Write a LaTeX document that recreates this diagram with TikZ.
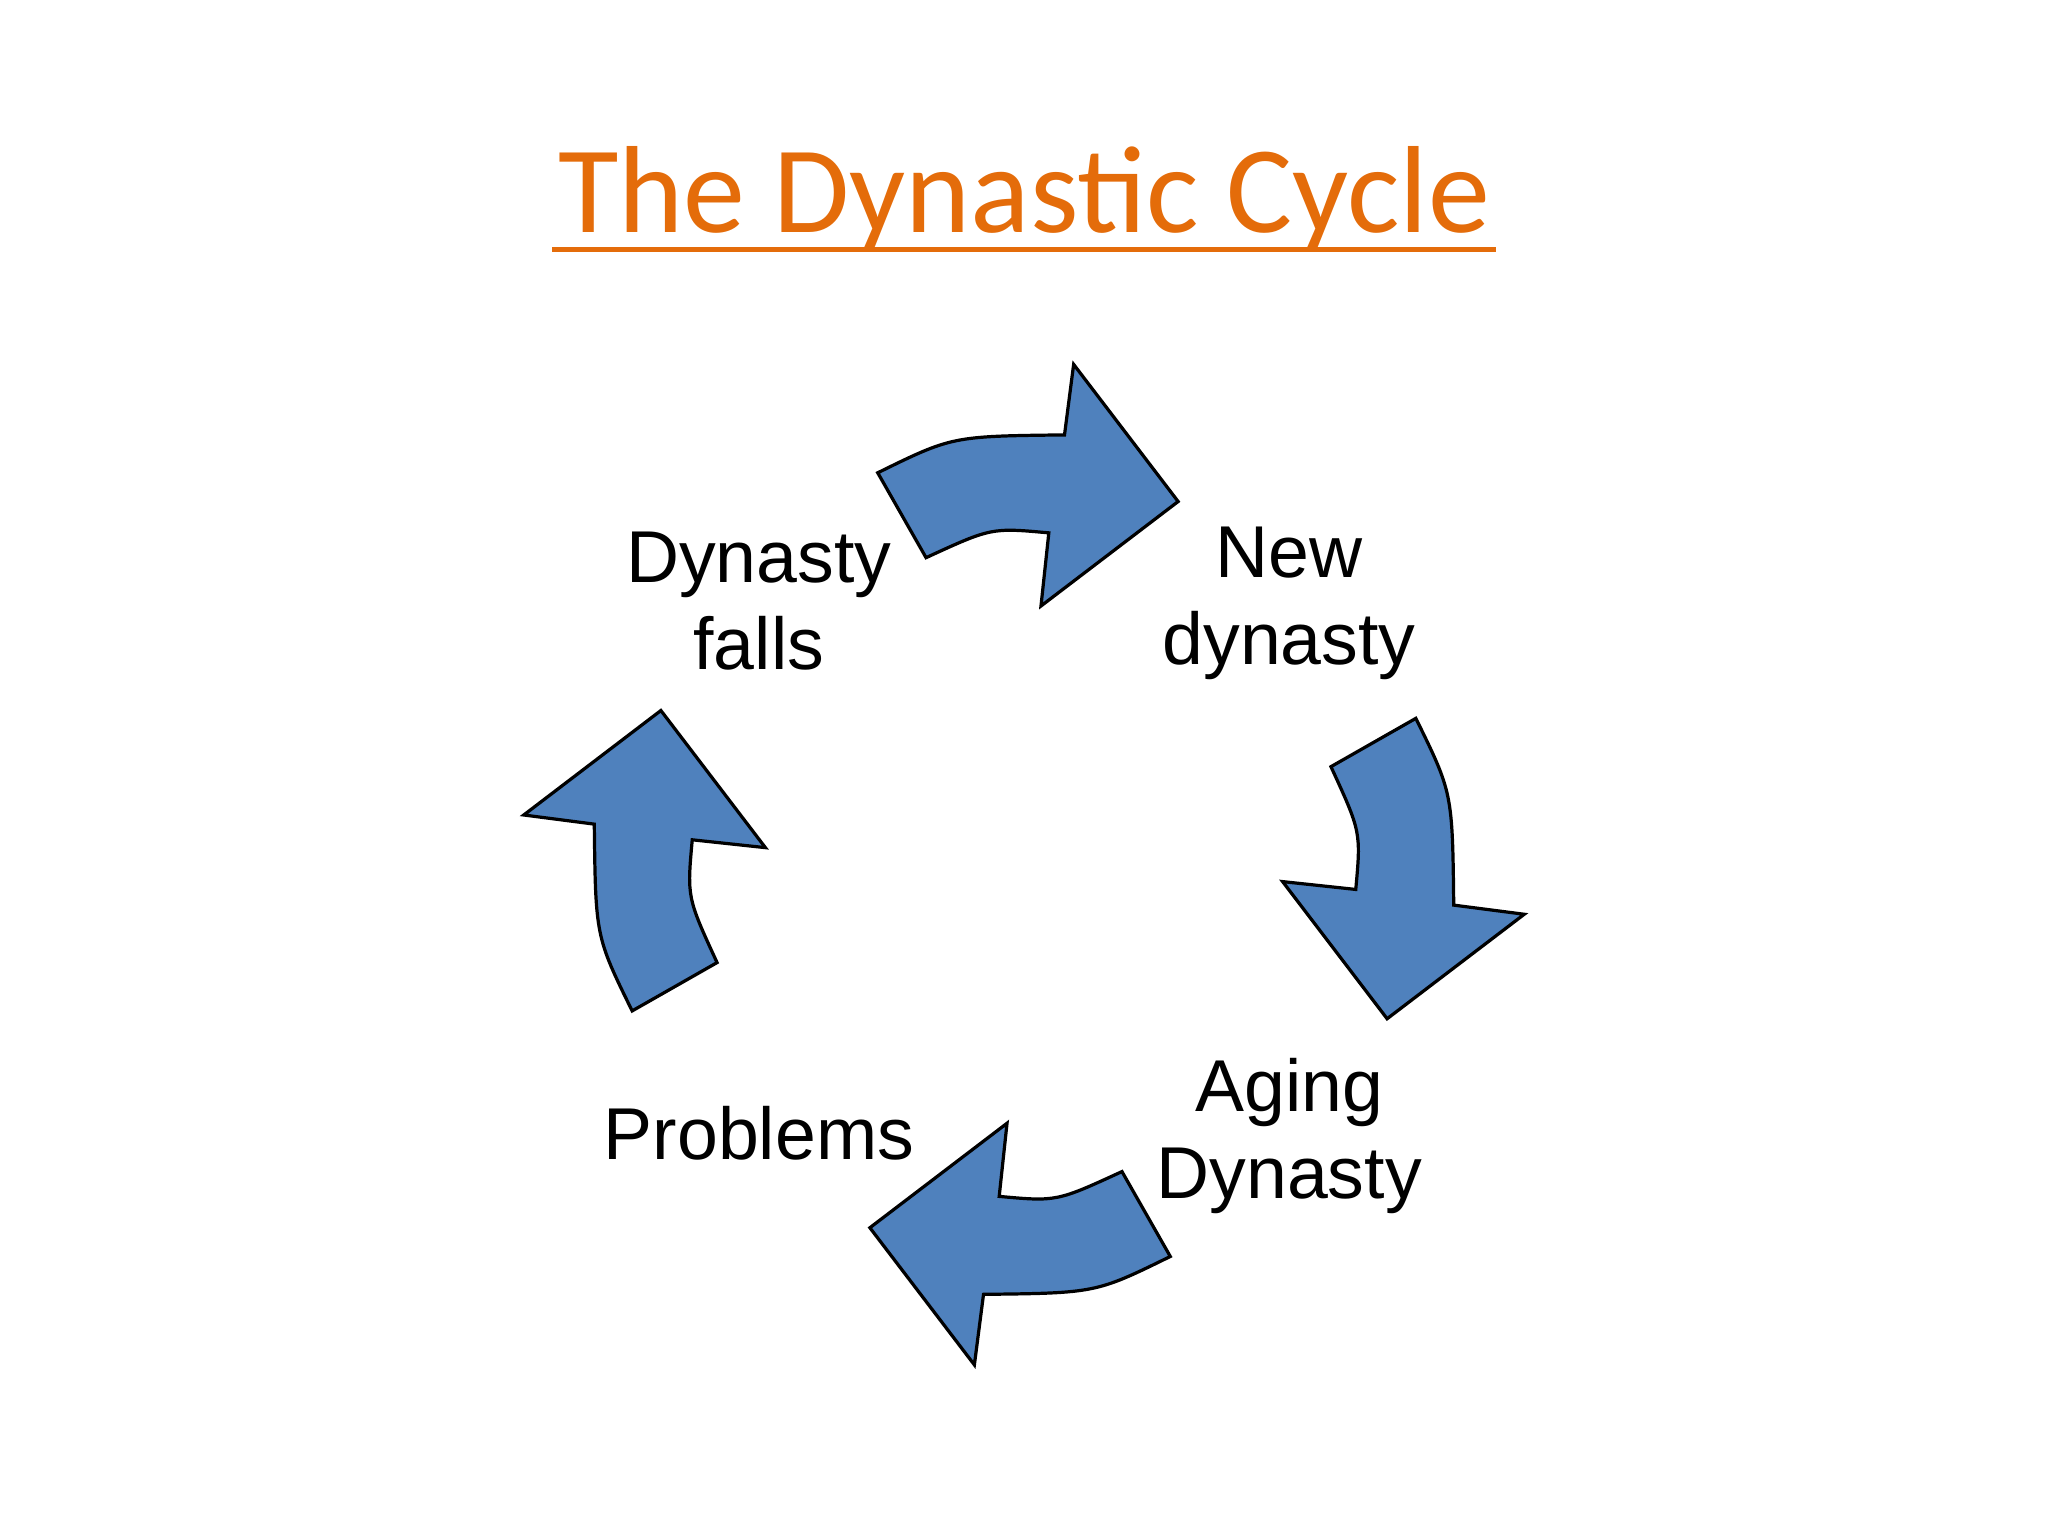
\documentclass[tikz,border=0pt]{standalone}
\usepackage{fontspec}
\setmainfont{Liberation Sans}
\newfontfamily\titlefont{Carlito}
\definecolor{cycleBlue}{RGB}{79,129,189}
\definecolor{titleOrange}{RGB}{228,108,10}
\tikzset{
  cyclearrow/.style = {fill = cycleBlue, draw = black, line width = 0.7pt, line join = miter},
  stage/.style = {align = center, font = \fontsize{16}{19}\selectfont, inner sep = 0pt}
}
\begin{document}
\begin{tikzpicture}
		\useasboundingbox (0, 0) rectangle (15.68, 11.76);
		%%%%%%%%%%%%%
		\node (title) [anchor = base, text = titleOrange, inner sep = 0pt] at (7.84, 9.98)
			{\titlefont\fontsize{27}{32}\selectfont The Dynastic Cycle};
		\coordinate (ulA) at (4.23, 9.85);
		\coordinate (ulB) at (11.45, 9.85);
		\draw [titleOrange, line width = 1.1pt] (ulA) -- (ulB);
		%%%%%%%%%%%%%
		\coordinate (mid) at (7.84, 5.14);
		\foreach \ang in {0, -90, -180, -270} {
			\begin{scope}[shift = {(mid)}, rotate = \ang]
				\draw [cyclearrow] (-1.12, 3.00) .. controls (-0.55, 3.28) .. (0.31, 3.29)
					-- (0.38, 3.83) -- (1.18, 2.78) -- (0.13, 1.98) -- (0.19, 2.54)
					.. controls (-0.25, 2.58) .. (-0.75, 2.35) -- cycle;
			\end{scope}
		}
		%%%%%%%%%%%%%
		\node (falls) [stage] at (5.81, 7.16) {Dynasty\\falls};
		\node (newdyn) [stage] at (9.87, 7.14) {New\\dynasty};
		\node (aging) [stage] at (9.87, 3.06) {Aging\\Dynasty};
		\node (problems) [stage] at (5.81, 3.08) {Problems};
\end{tikzpicture}
\end{document}
